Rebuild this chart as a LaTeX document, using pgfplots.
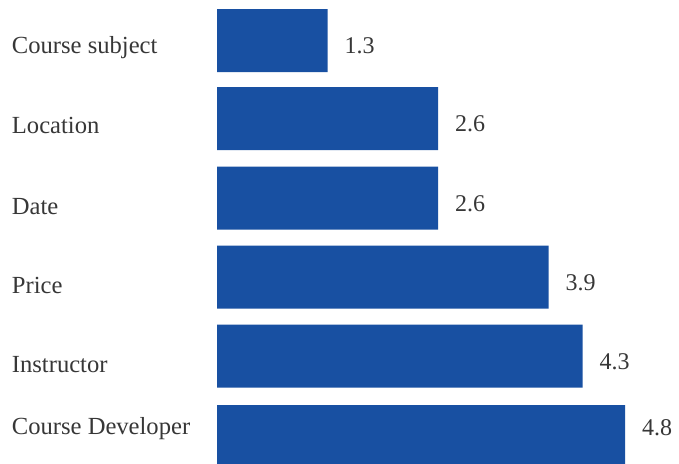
\documentclass[border=0pt]{standalone}
\usepackage{pgfplots}
\pgfplotsset{compat=1.18}
\usepackage{pgfplotstable}
\usepackage{fontspec}
\setmainfont{Liberation Serif}
\definecolor{barblue}{RGB}{24,80,162}
\definecolor{txt}{RGB}{55,55,55}

% v = value, y = bar centre (px from top), dy = shift of value label
\pgfplotstableread{
v   y     dy
1.3 40.5  -12.5
2.6 118.5 -12.5
2.6 198   -13
3.9 277   -13
4.3 356   -13
4.8 436.5 1.5
}\bars

\begin{document}
\begin{tikzpicture}
\useasboundingbox (0,0) rectangle (679pt,463pt);
\begin{axis}[
  at={(0,0)}, anchor=south west,
  scale only axis, width=679pt, height=463pt,
  xmin=-2.553, xmax=5.435, ymin=0, ymax=463, y dir=reverse,
  axis line style={draw=none}, tick style={draw=none},
  xtick=\empty,
  ytick={53,133,214,293,372,434},
  yticklabels={Course subject,Location,Date,Price,Instructor,Course Developer},
  yticklabel style={anchor=base west, inner sep=0pt, xshift=16pt,
    font=\fontsize{24.6}{28}\selectfont, text=txt},
  xbar, bar width=63pt,
  nodes near coords,
  point meta=explicit symbolic,
  visualization depends on={\thisrow{dy} \as \dy},
  every node near coord/.append style={anchor=base west, inner sep=0pt,
    xshift=17pt, yshift=\dy pt, font=\fontsize{24}{28}\selectfont, text=txt},
]
\addplot[fill=barblue, draw=none] table[x=v, y=y, meta=v] {\bars};
\end{axis}
\end{tikzpicture}
\end{document}
